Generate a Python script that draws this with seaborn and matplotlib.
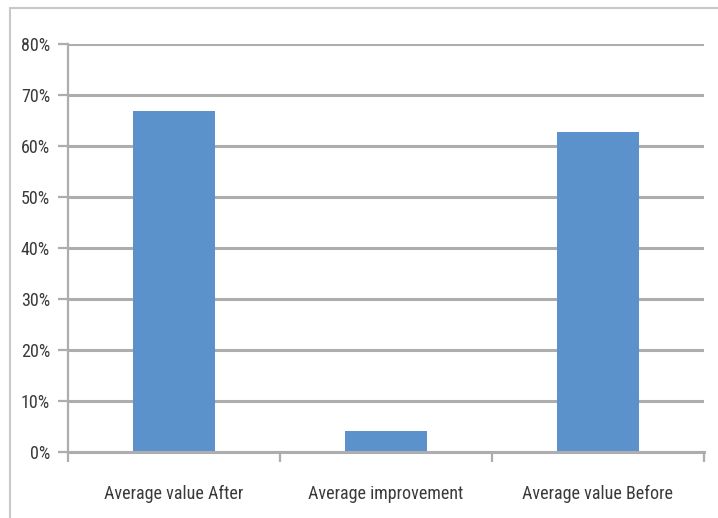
import numpy as np
import pandas as pd
import matplotlib
matplotlib.use("Agg")
import matplotlib.pyplot as plt
from matplotlib import font_manager
from matplotlib.patches import Rectangle
from matplotlib.ticker import FuncFormatter, MultipleLocator
import seaborn as sns

# ==== data ====
categories = ["Average value After", "Average improvement", "Average value Before"]
values = [0.669, 0.042, 0.627]

df = pd.DataFrame({"category": categories, "value": values})

sns.set_style("white")
names = {f.name for f in font_manager.fontManager.ttflist}
narrow = [n for n in ["Liberation Sans Narrow", "Roboto Condensed", "Open Sans Condensed"] if n in names]
plt.rcParams["font.family"] = narrow + ["DejaVu Sans"]
plt.rcParams["font.stretch"] = "condensed"

fig = plt.figure(figsize=(7.18, 5.18), dpi=100)
# plot area in pixels: left 68, right 704, top 44, bottom 452
ax = fig.add_axes([68 / 718, 1 - 452 / 518, (704 - 68) / 718, (452 - 44) / 518])
ax.set_axisbelow(True)

sns.barplot(data=df, x="category", y="value", color="#5B92CB", width=0.39,
            saturation=1, linewidth=0, ax=ax)

ax.set_ylim(0, 0.8)
ax.set_xlim(-0.5, 2.5)
ax.yaxis.set_major_locator(MultipleLocator(0.1))
ax.yaxis.set_major_formatter(FuncFormatter(lambda v, p: f"{v * 100:.0f}%"))
ax.grid(axis="y", color="#adadad", linewidth=2.2)

for s in ["top", "right"]:
    ax.spines[s].set_visible(False)
ax.spines["left"].set_color("#adadad")
ax.spines["bottom"].set_color("#adadad")
ax.spines["left"].set_linewidth(1.6)
ax.spines["bottom"].set_linewidth(2.2)

# ticks: y ticks outside to the left, x ticks at category boundaries
ax.tick_params(axis="y", left=True, length=7, width=1.6, color="#adadad",
               labelsize=13, labelcolor="#3a3a3a", pad=6)
ax.set_xticks([0, 1, 2])
ax.set_xticklabels(categories)
ax.tick_params(axis="x", bottom=False, labelsize=13, labelcolor="#3a3a3a", pad=20)
ax.set_xticks([-0.5, 0.5, 1.5, 2.5], minor=True)
ax.tick_params(axis="x", which="minor", bottom=True, length=7, width=1.6,
               color="#adadad")
ax.set_xlabel("")
ax.set_ylabel("")

# outer chart border
fig.patches.append(Rectangle((10 / 718, -0.05), 1.1, 1 - 8 / 518 + 0.05,
                             transform=fig.transFigure, fill=False,
                             edgecolor="#c8c8c8", linewidth=1.5))

fig.savefig("out.png", dpi=100)
